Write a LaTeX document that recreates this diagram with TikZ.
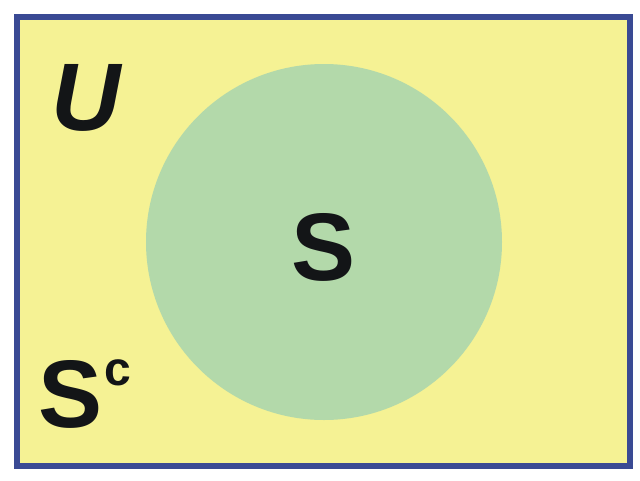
\documentclass[tikz,border=0pt]{standalone}
\usepackage{fontspec}
\setmainfont{Liberation Sans}
\usetikzlibrary{positioning}
\definecolor{venyellow}{HTML}{F5F294}
\definecolor{vengreen}{HTML}{B3D9AA}
\definecolor{venblue}{HTML}{3A4A94}
\definecolor{venink}{HTML}{131517}
\tikzset{
  lbl/.style={text=venink, font=\bfseries\fontsize{96}{96}\selectfont, inner sep=0pt, anchor=base},
  sup/.style={text=venink, font=\bfseries\fontsize{48}{48}\selectfont, inner sep=0pt, anchor=base west},
}
\begin{document}
\begin{tikzpicture}[x=1pt,y=-1pt]
  \useasboundingbox (0,0) rectangle (640,480);
  % universe box and set S
  \draw[venblue, line width=6pt, fill=venyellow] (17,17) rectangle (630,466);
  \fill[vengreen] (324,242) circle[radius=178];
  \node[lbl, font=\bfseries\itshape\fontsize{96}{96}\selectfont] (u) at (86,130) {U};
  \node[lbl] (s) at (324,280) {S};
  \node[lbl, anchor=base west] (sc) at (38,427) {S};
  \node[sup] (c) at (104,385) {c};
\end{tikzpicture}
\end{document}
